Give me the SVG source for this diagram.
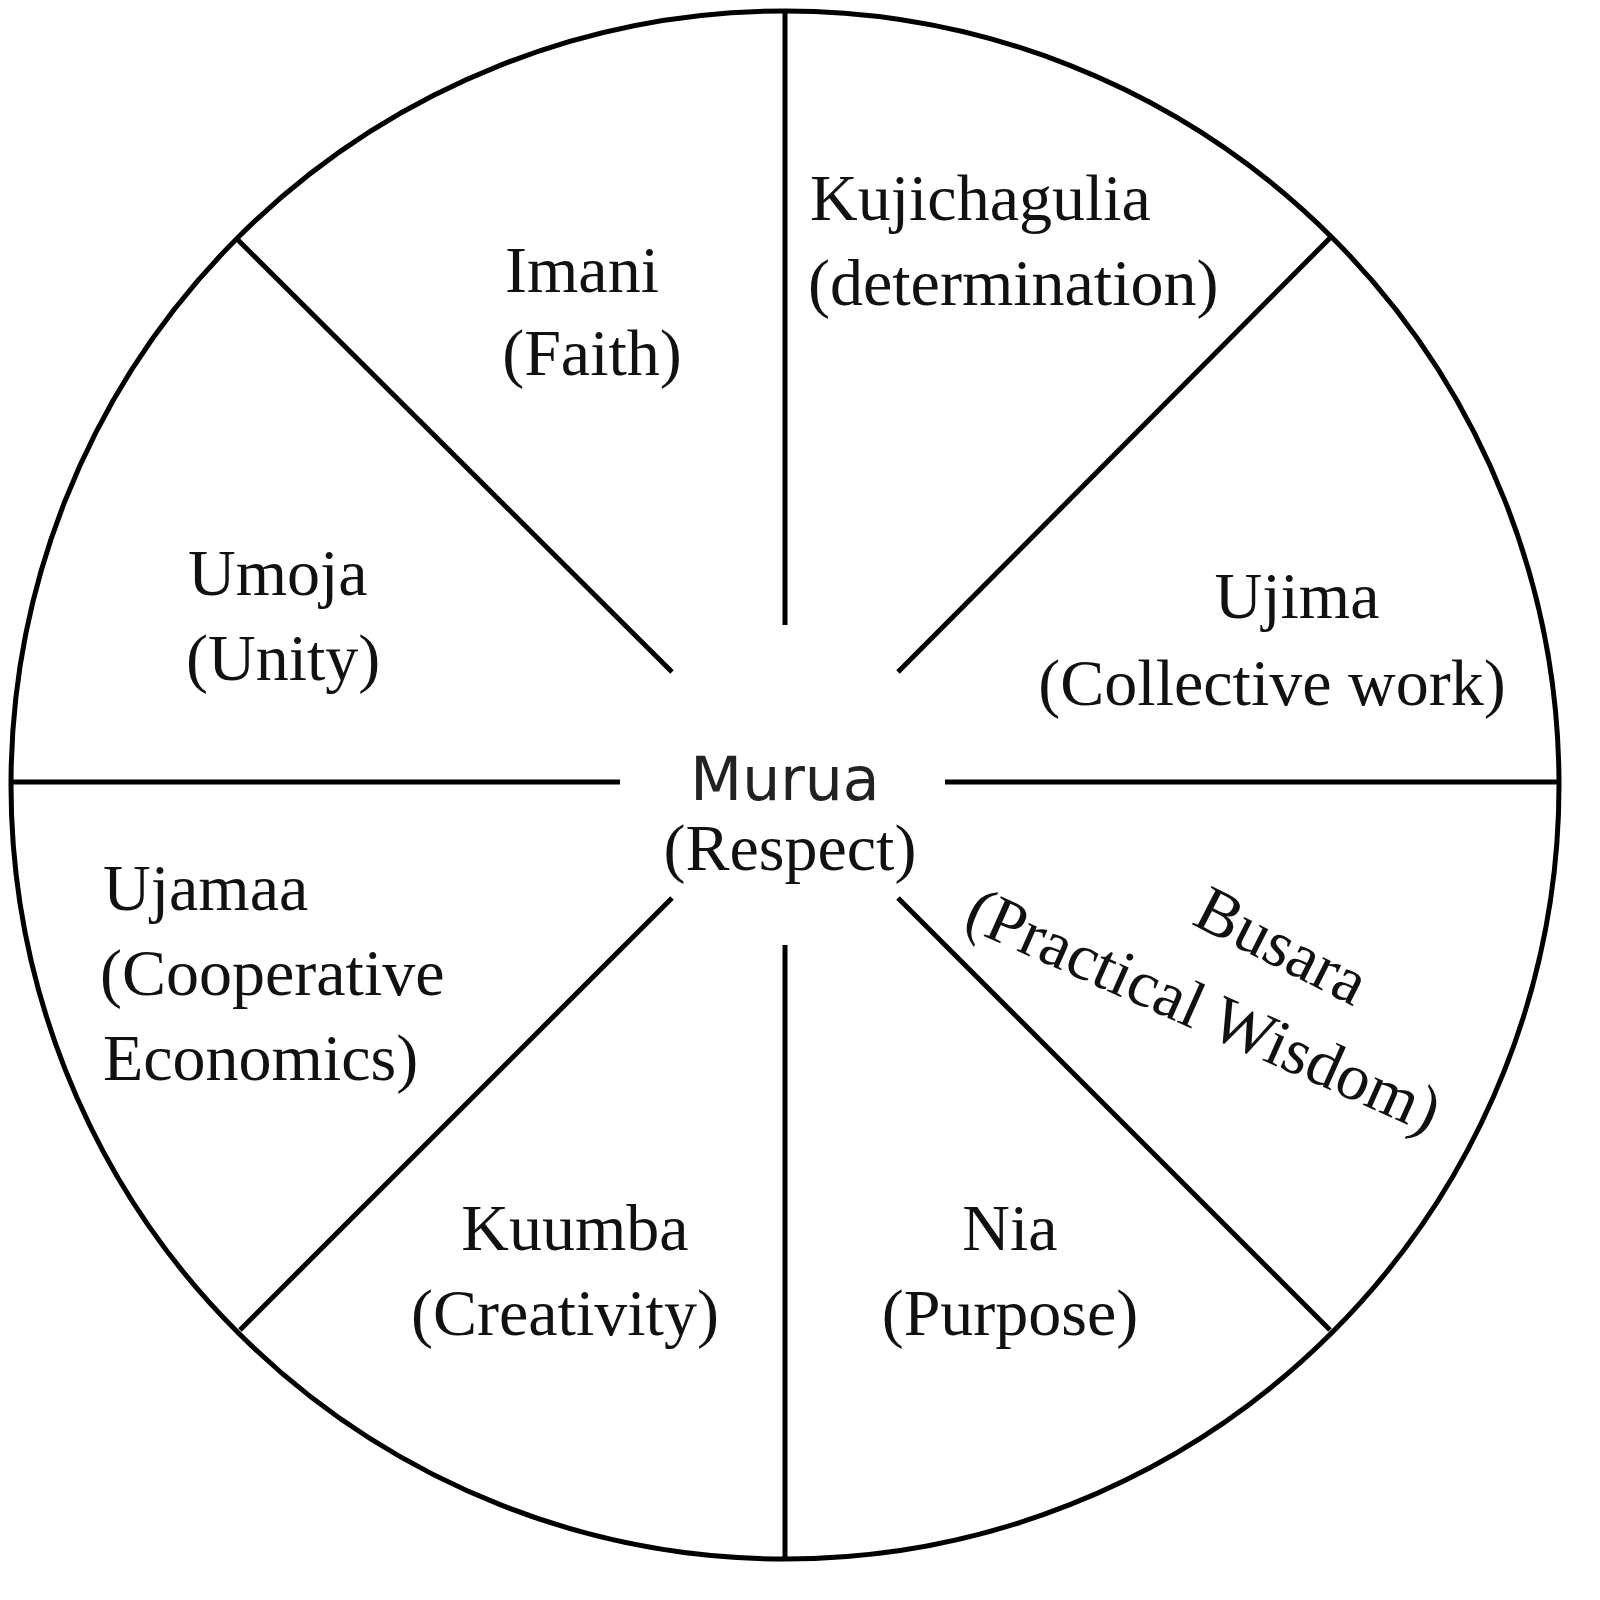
<svg xmlns="http://www.w3.org/2000/svg" width="1600" height="1600" viewBox="0 0 1600 1600">
<style>
.l{stroke:#000;stroke-width:5;fill:none}
.t{font-family:"Liberation Serif",serif;font-size:66px;fill:#111}
.s{font-family:"DejaVu Sans",sans-serif;font-size:60px;fill:#222}
</style>
<rect width="1600" height="1600" fill="#fff"/>
<g id="wheel"><circle class="l" cx="785" cy="785" r="774"/></g>
<g id="connectors">
<line class="l" x1="785" y1="12" x2="785" y2="625"/>
<line class="l" x1="785" y1="945" x2="785" y2="1558"/>
<line class="l" x1="12" y1="782" x2="620" y2="782"/>
<line class="l" x1="945" y1="782" x2="1558" y2="782"/>
<line class="l" x1="238" y1="240" x2="672" y2="672"/>
<line class="l" x1="1330" y1="238" x2="898" y2="672"/>
<line class="l" x1="240" y1="1330" x2="672" y2="898"/>
<line class="l" x1="1330" y1="1330" x2="898" y2="898"/>
</g>
<g id="imani" class="t" text-anchor="middle"><text x="582" y="292">Imani</text><text x="592" y="375">(Faith)</text></g>
<g id="kujichagulia" class="t"><text x="810" y="220">Kujichagulia</text><text x="808" y="305">(determination)</text></g>
<g id="ujima" class="t" text-anchor="middle"><text x="1297" y="618">Ujima</text><text x="1272" y="705">(Collective work)</text></g>
<g id="umoja" class="t"><text x="188" y="595">Umoja</text><text x="186" y="680">(Unity)</text></g>
<g id="murua" text-anchor="middle"><text class="s" x="785" y="800">Murua</text><text class="t" x="790" y="870">(Respect)</text></g>
<g id="ujamaa" class="t"><text x="103" y="910">Ujamaa</text><text x="100" y="995">(Cooperative</text><text x="103" y="1080">Economics)</text></g>
<g id="kuumba" class="t" text-anchor="middle"><text x="575" y="1250">Kuumba</text><text x="565" y="1335">(Creativity)</text></g>
<g id="nia" class="t" text-anchor="middle"><text x="1010" y="1250">Nia</text><text x="1010" y="1335">(Purpose)</text></g>
<g id="busara" class="t" text-anchor="middle"><text transform="translate(1272,965) rotate(27)">Busara</text><text transform="translate(1195,1030) rotate(24)">(Practical Wisdom)</text></g>
</svg>
